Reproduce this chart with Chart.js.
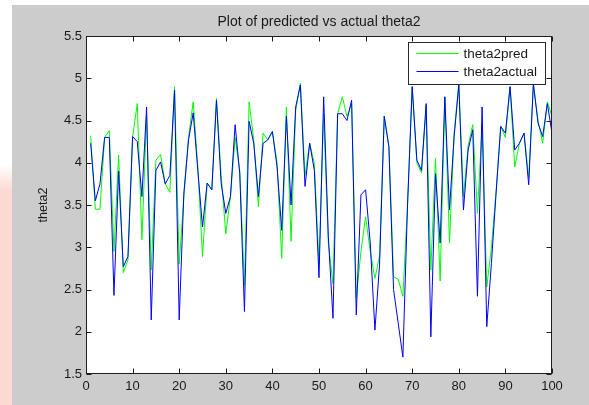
<!DOCTYPE html>
<html>
<head>
<meta charset="utf-8">
<title>theta2</title>
<script src="https://cdn.jsdelivr.net/npm/chart.js@4"></script>
<style>
  html, body { margin: 0; padding: 0; }
  body {
    width: 589px; height: 405px; position: relative; overflow: hidden;
    background: linear-gradient(to bottom, #ffffff 0px, #ffffff 165px, #fdd9d3 190px, #fdd9d3 405px);
  }
  #fig { position: absolute; left: 12px; top: 5px; width: 577px; height: 400px; background: #cccccc; }
  #wrap { position: absolute; left: 0; top: 0; width: 589px; height: 405px; }
</style>
</head>
<body>
<div id="fig"></div>
<div id="wrap"><canvas id="theta-chart"></canvas></div>
<script>
// sample index 1..100
const sampleIdx = Array.from({ length: 100 }, (_, i) => i + 1);

const theta2pred = [
    4.32, 3.45, 3.45, 4.30, 4.38, 2.95, 4.09, 2.70, 2.85, 4.30,
    4.70, 3.09, 4.55, 2.73, 4.03, 4.10, 3.75, 3.65, 4.90, 2.80,
    3.60, 4.30, 4.72, 3.95, 2.89, 3.76, 3.68, 4.76, 3.85, 3.16,
    3.60, 4.30, 3.90, 2.55, 4.72, 4.27, 3.48, 4.35, 4.27, 4.37,
    4.00, 2.87, 4.66, 3.07, 4.62, 4.94, 3.85, 4.23, 3.99, 2.80,
    4.58, 3.05, 2.57, 4.58, 4.78, 4.55, 4.70, 2.40, 2.95, 3.36,
    2.95, 2.63, 2.90, 4.55, 4.19, 2.65, 2.62, 2.42, 3.50, 4.90,
    4.00, 3.88, 4.68, 2.73, 4.05, 2.60, 4.78, 3.05, 4.35, 4.94,
    3.60, 4.20, 4.45, 3.40, 4.45, 2.53, 3.00, 3.66, 4.43, 4.30,
    4.90, 3.95, 4.23, 4.35, 3.82, 4.92, 4.50, 4.23, 4.72, 4.55
];

const theta2actual = [
    4.23, 3.55, 3.75, 4.30, 4.30, 2.43, 3.90, 2.77, 2.89, 4.31,
    4.25, 3.60, 4.66, 2.14, 3.91, 4.01, 3.75, 3.85, 4.86, 2.14,
    3.64, 4.27, 4.59, 3.91, 3.24, 3.76, 3.68, 4.74, 3.76, 3.40,
    3.60, 4.45, 3.87, 2.24, 4.49, 4.23, 3.60, 4.23, 4.27, 4.37,
    3.95, 3.20, 4.55, 3.50, 4.66, 4.92, 3.72, 4.23, 3.91, 2.64,
    4.78, 3.13, 2.16, 4.58, 4.58, 4.50, 4.74, 2.20, 3.62, 3.68,
    3.05, 2.02, 2.80, 4.55, 4.19, 2.50, 2.10, 1.70, 3.50, 4.90,
    4.03, 3.91, 4.70, 1.94, 3.87, 3.05, 4.78, 3.44, 4.31, 4.92,
    3.44, 4.15, 4.39, 2.42, 4.66, 2.06, 2.81, 3.64, 4.43, 4.35,
    4.90, 4.15, 4.23, 4.35, 3.74, 4.94, 4.47, 4.31, 4.70, 4.35
];

const xTicks = [0, 10, 20, 30, 40, 50, 60, 70, 80, 90, 100];
const yTicks = [1.5, 2, 2.5, 3, 3.5, 4, 4.5, 5, 5.5];

const FONT = 'Arial, "Liberation Sans", sans-serif';
const AXIS_COLOR = '#1e1e1e';

// white axes background, boxed frame with inward ticks, boxed legend
const matlabAxes = {
    id: 'matlabAxes',
    beforeDraw(chart) {
        const { ctx, chartArea: a } = chart;
        ctx.save();
        ctx.fillStyle = '#ffffff';
        ctx.fillRect(a.left, a.top, a.right - a.left, a.bottom - a.top);
        ctx.restore();
    },
    afterDatasetsDraw(chart) {
        const { ctx, chartArea: a, scales } = chart;
        const L = Math.round(a.left) + 0.5, R = Math.round(a.right) - 0.5;
        const T = Math.round(a.top) + 0.5, B = Math.round(a.bottom) - 0.5;
        const tick = 5;
        ctx.save();
        ctx.strokeStyle = AXIS_COLOR;
        ctx.lineWidth = 1;
        ctx.beginPath();
        xTicks.forEach(v => {
            const px = Math.round(scales.x.getPixelForValue(v)) + 0.5;
            ctx.moveTo(px, B); ctx.lineTo(px, B - tick);
            ctx.moveTo(px, T); ctx.lineTo(px, T + tick);
        });
        yTicks.forEach(v => {
            const py = Math.round(scales.y.getPixelForValue(v)) + 0.5;
            ctx.moveTo(L, py); ctx.lineTo(L + tick, py);
            ctx.moveTo(R, py); ctx.lineTo(R - tick, py);
        });
        ctx.stroke();
        ctx.strokeRect(L, T, R - L, B - T);

        // legend
        ctx.font = '13.5px ' + FONT;
        const items = chart.data.datasets;
        const textW = Math.max(...items.map(d => ctx.measureText(d.label).width));
        const boxW = Math.round(55 + textW + 8);
        const boxH = 42;
        const bx = Math.round(a.right) - 7 - boxW + 0.5;
        const by = Math.round(a.top) + 6 + 0.5;
        ctx.fillStyle = '#ffffff';
        ctx.fillRect(bx, by, boxW, boxH);
        ctx.strokeStyle = '#2a2a2a';
        ctx.strokeRect(bx, by, boxW, boxH);
        ctx.textBaseline = 'middle';
        ctx.textAlign = 'left';
        items.forEach((d, i) => {
            const ly = Math.round(by + 10 + i * 18) + 0.5;
            ctx.strokeStyle = d.borderColor;
            ctx.beginPath();
            ctx.moveTo(bx + 8, ly);
            ctx.lineTo(bx + 50, ly);
            ctx.stroke();
            ctx.fillStyle = '#1a1a1a';
            ctx.fillText(d.label, bx + 55, ly + 1);
        });
        ctx.restore();
    }
};

const ctx = document.getElementById('theta-chart').getContext('2d');
const thetaChart = new Chart(ctx, {
    type: 'line',
    data: {
        datasets: [{
            label: 'theta2pred',
            data: sampleIdx.map((x, i) => ({ x: x, y: theta2pred[i] })),
            borderColor: '#00ff00',
            borderWidth: 1,
            pointRadius: 0,
            tension: 0,
            order: 1
        }, {
            label: 'theta2actual',
            data: sampleIdx.map((x, i) => ({ x: x, y: theta2actual[i] })),
            borderColor: '#0000ff',
            borderWidth: 1,
            pointRadius: 0,
            tension: 0,
            order: 0
        }]
    },
    options: {
        responsive: true,
        maintainAspectRatio: false,
        animation: false,
        layout: {
            padding: { left: 0, right: 37, top: 0, bottom: 0 }
        },
        plugins: {
            legend: { display: false },
            tooltip: { enabled: false },
            title: {
                display: true,
                fullSize: false,
                text: 'Plot of predicted vs actual theta2',
                color: '#1a1a1a',
                font: { family: FONT, size: 14, weight: 'normal' },
                padding: { top: 14, bottom: 5.2 }
            }
        },
        scales: {
            x: {
                type: 'linear',
                min: 0,
                max: 100,
                afterBuildTicks: s => { s.ticks = xTicks.map(v => ({ value: v })); },
                afterFit: s => { s.height = 31; },
                grid: { display: false, drawTicks: false },
                border: { display: false },
                ticks: {
                    color: '#1a1a1a',
                    font: { family: FONT, size: 13 },
                    padding: 5,
                    maxRotation: 0,
                    autoSkip: false,
                    callback: v => String(v)
                }
            },
            y: {
                min: 1.5,
                max: 5.5,
                afterBuildTicks: s => { s.ticks = yTicks.map(v => ({ value: v })); },
                afterFit: s => { s.width = 86; },
                grid: { display: false, drawTicks: false },
                border: { display: false },
                ticks: {
                    color: '#1a1a1a',
                    font: { family: FONT, size: 13 },
                    padding: 4,
                    autoSkip: false,
                    callback: v => String(v)
                },
                title: {
                    display: true,
                    text: 'theta2',
                    color: '#1a1a1a',
                    font: { family: FONT, size: 12.5 },
                    padding: { top: 36, bottom: 0 }
                }
            }
        }
    },
    plugins: [matlabAxes]
});
</script>
</body>
</html>
